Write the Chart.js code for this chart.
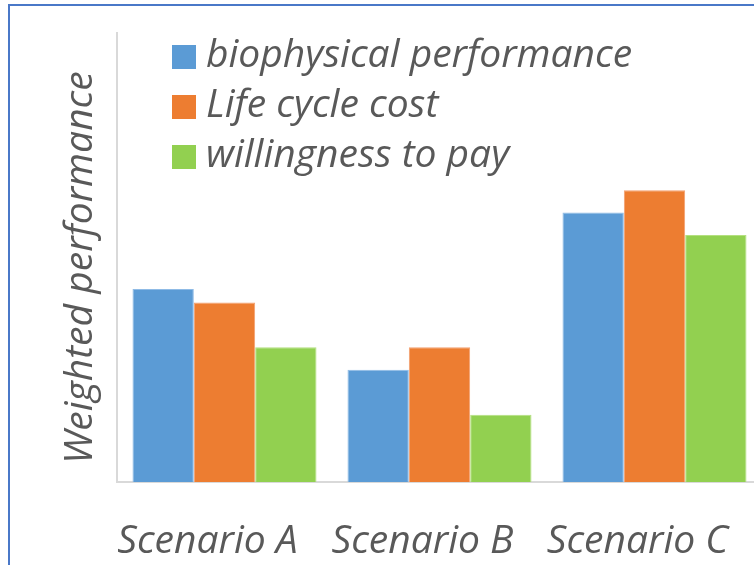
<!DOCTYPE html>
<html>
<head>
<meta charset="utf-8">
<script src="https://cdn.jsdelivr.net/npm/chart.js@4/dist/chart.umd.min.js"></script>
<style>
  html, body { margin: 0; padding: 0; width: 754px; height: 565px; overflow: hidden; background: #fff; }
  #frame { position: absolute; left: 8px; top: 4px; width: 2000px; height: 2000px;
           border-left: 2px solid #4a78c8; border-top: 2px solid #4a78c8; }
  #myChart { position: absolute; left: 0; top: 0; }
</style>
</head>
<body>
<div id="frame"></div>
<canvas id="myChart" width="790" height="565"></canvas>
<script>
// categories and series
var scenarios = ['Scenario A', 'Scenario B', 'Scenario C'];
var biophysical = [0.43, 0.25, 0.60];
var lifeCycleCost = [0.40, 0.30, 0.65];
var willingness = [0.30, 0.15, 0.55];
var seriesNames = ['biophysical performance', 'Life cycle cost', 'willingness to pay'];
var seriesColors = ['#5b9bd5', '#ed7d31', '#92d050'];
var edgeColors = ['#8fbbe6', '#f3a070', '#b4e07f'];

var textColor = '#595959';
var italicFont = "'Open Sans', sans-serif";

// legend drawn inside the plot area, top left
var innerLegend = {
  id: 'innerLegend',
  afterDraw: function (chart) {
    var ctx = chart.ctx;
    ctx.save();
    ctx.font = 'italic 39px ' + italicFont;
    ctx.textBaseline = 'middle';
    chart.data.datasets.forEach(function (ds, i) {
      var y = 45 + i * 50;
      ctx.fillStyle = ds.backgroundColor;
      ctx.fillRect(172, y, 24, 24);
      ctx.fillStyle = textColor;
      ctx.fillText(ds.label, 206, y + 11);
    });
    ctx.restore();
  }
};

window.onload = function () {
  var ctx = document.getElementById('myChart').getContext('2d');
  var data = [biophysical, lifeCycleCost, willingness];
  var myChart = new Chart(ctx, {
    type: 'bar',
    data: {
      labels: scenarios,
      datasets: data.map(function (d, i) {
        return {
          label: seriesNames[i],
          data: d,
          backgroundColor: seriesColors[i],
          borderColor: edgeColors[i],
          borderWidth: 1,
          categoryPercentage: 0.856,
          barPercentage: 1
        };
      })
    },
    options: {
      responsive: false,
      animation: false,
      devicePixelRatio: 1,
      layout: { padding: { top: 33, right: 28, left: 0, bottom: 0 } },
      plugins: { legend: { display: false }, tooltip: { enabled: false } },
      scales: {
        x: {
          grid: { display: false },
          border: { display: true, color: '#d9d9d9', width: 2 },
          ticks: {
            color: textColor,
            font: { family: italicFont, size: 39, style: 'italic' },
            padding: 28,
            labelOffset: -17,
            maxRotation: 0
          },
          afterFit: function (scale) { scale.height = 83; }
        },
        y: {
          min: 0,
          max: 1,
          grid: { display: false },
          border: { display: true, color: '#d9d9d9', width: 2 },
          ticks: { display: false },
          title: {
            display: true,
            text: 'Weighted performance\u00a0\u00a0',
            color: textColor,
            font: { family: italicFont, size: 39, style: 'italic' },
            padding: { top: 57, bottom: 0 }
          },
          afterFit: function (scale) { scale.width = 117; }
        }
      }
    },
    plugins: [innerLegend]
  });
};
</script>
</body>
</html>
